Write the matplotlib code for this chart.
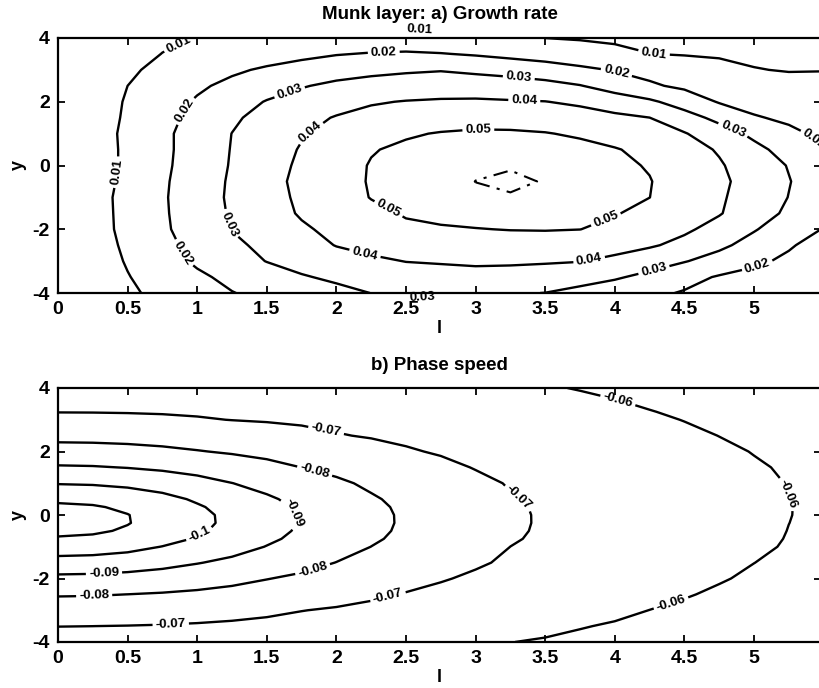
import numpy as np
import matplotlib
matplotlib.use("Agg")
import matplotlib.pyplot as plt

plt.rcParams['font.family'] = ['Liberation Sans', 'DejaVu Sans']
plt.rcParams['axes.unicode_minus'] = False
plt.rcParams['contour.negative_linestyle'] = 'solid'

# ---------------- data ----------------
# wavenumber l (columns) shared by both panels
l_values = [0, 0.25, 0.5, 0.75, 1.0, 1.25, 1.5, 1.75, 2.0, 2.25, 2.5, 2.75,
            3.0, 3.25, 3.5, 3.75, 4.0, 4.25, 4.5, 4.75, 5.0, 5.25, 5.5]

# panel a) growth rate, rows of y, values in units of 1e-4
y_growth = [-4, -3.5, -3, -2.5, -2, -1.5, -1, -0.5, 0, 0.5, 1, 1.5, 2, 2.5, 3, 3.5, 4]
growth_rate_1e4 = [
    [0, 42, 85, 123.5, 160, 197, 223, 249, 274, 301, 307, 314.5, 311, 306, 299, 273, 246, 218, 193, 170, 148, 125.5, 103],
    [0, 48, 96, 140, 184, 222, 257, 292, 317, 339, 361, 364.5, 368, 361, 355, 337, 311, 275, 230, 192, 168, 144, 120],
    [0, 53, 107, 162, 214, 259, 302.5, 334, 365, 385, 402, 408, 415, 414.5, 409, 403, 380, 342, 305, 263, 220, 180, 142],
    [0, 58, 116, 174, 229, 279, 325, 366, 403, 425, 446, 452, 459, 462, 452, 442, 432, 411, 374, 320, 265, 211, 157],
    [0, 62.5, 124, 185, 245, 303, 346, 388, 422, 452.5, 485, 491, 497.5, 502.6, 505, 501, 476, 445, 415, 368, 307, 249, 196],
    [0, 63, 126, 188, 250, 310, 361, 409, 444, 480, 507, 523, 529, 535, 529, 522, 505, 476, 441, 406, 346, 282.5, 220],
    [0, 64, 127.5, 190, 251, 315, 367, 416, 462, 503, 521, 536, 545, 548.5, 540, 532, 516, 500.5, 456, 412, 357, 298, 240],
    [0, 60, 121, 187, 250, 312, 370, 422, 469, 506, 523, 538, 550.3, 553.3, 549, 535, 520, 503, 464, 418, 364, 304, 245],
    [0, 57, 116, 182, 245, 307, 362, 416, 465, 505, 522, 536, 545, 548.5, 540, 532, 515, 495, 452, 409, 354, 295, 236],
    [0, 57, 116, 179, 243, 304, 356, 407, 451, 495, 515, 530, 536, 539.5, 533, 524, 506, 475, 435, 392, 326, 264, 205],
    [0, 58, 118, 180, 241, 301, 347, 393, 427, 459, 491, 505, 512, 511, 504, 489, 461, 433, 406, 344, 279, 221, 180],
    [0, 56, 112, 170, 228, 286, 331, 371, 406, 427, 448, 458, 467, 464, 457, 442, 421, 400.5, 338, 274, 208, 183, 164],
    [0, 54, 108, 159, 210, 259, 305, 334, 363, 392, 404, 410, 412, 407, 402, 383, 349, 316, 258, 193, 168, 155, 142],
    [0, 50, 100, 142, 185, 223, 259, 294, 318, 337, 345, 354, 352, 343, 329, 304, 260, 213, 182, 158, 133, 126.5, 120],
    [0, 43, 86, 122, 153, 185, 213, 239, 263, 275.5, 288, 295, 281, 267, 248, 220, 194, 171, 148, 125, 103, 96, 98],
    [0, 34, 68, 101.5, 120, 139, 157, 176, 195, 206, 211, 204, 191, 173, 155, 137, 119, 101, 95, 90.5, 85.7, 81, 76],
    [0, 28, 56, 84, 103, 110, 117, 123, 130, 137, 137, 128, 118, 109, 99.8, 94, 88, 83, 77, 71, 65, 60, 54],
]
growth_levels = [0.01, 0.02, 0.03, 0.04, 0.05]
growth_inner_level = [0.055]

# panel b) phase speed, rows of y, values in units of 1e-4
y_phase = [-4, -3.5, -3, -2.5, -2, -1.5, -1, -0.75, -0.5, -0.25, 0, 0.25, 0.5, 1, 1.5, 2, 2.5, 3, 3.25, 3.5, 4]
phase_speed_1e4 = [
    [-670.1, -669.6, -668.1, -665.8, -662.4, -658.2, -653.3, -647.6, -641.2, -634.2, -626.5, -618.4, -609.8, -600.8, -594.9, -588.9, -582.7, -576.3, -569.7, -563.0, -556.1, -549.1, -542.0],
    [-701.0, -700.1, -698.3, -695.6, -691.7, -686.9, -681.2, -674.8, -667.6, -659.7, -651.3, -642.3, -633.0, -623.3, -613.1, -602.7, -595.2, -588.4, -581.5, -574.4, -567.2, -559.9, -552.4],
    [-753.1, -752.0, -748.6, -743.0, -735.4, -725.8, -714.5, -701.6, -692.7, -683.9, -674.6, -664.8, -654.5, -644.0, -633.1, -622.1, -610.8, -599.6, -592.2, -584.8, -577.3, -569.6, -561.9],
    [-807.1, -805.2, -799.7, -793.0, -784.0, -772.7, -759.6, -744.8, -728.5, -711.1, -695.8, -685.1, -673.9, -662.5, -651.0, -639.2, -627.2, -615.2, -603.0, -594.1, -586.2, -578.2, -570.2],
    [-879.1, -876.7, -869.6, -858.1, -842.7, -824.0, -802.6, -784.7, -766.2, -746.6, -726.0, -704.7, -690.6, -678.4, -666.1, -653.7, -641.2, -628.6, -616.0, -603.2, -593.8, -585.5, -577.3],
    [-960.7, -956.7, -945.3, -927.4, -904.2, -880.6, -854.9, -827.2, -798.6, -776.7, -754.0, -730.9, -707.3, -691.1, -678.2, -665.3, -652.3, -639.3, -626.4, -613.4, -600.3, -591.7, -583.3],
    [-1055.4, -1048.9, -1029.5, -997.7, -967.1, -933.0, -897.2, -865.4, -832.6, -799.5, -774.9, -750.2, -725.2, -699.8, -686.8, -673.6, -660.3, -647.1, -633.9, -620.7, -607.6, -596.3, -587.6],
    [-1092.8, -1086.4, -1067.0, -1034.7, -992.1, -954.4, -915.3, -879.1, -844.8, -810.2, -782.2, -756.8, -731.3, -705.7, -689.7, -676.4, -663.1, -649.9, -636.6, -623.3, -610.2, -598.0, -589.3],
    [-1117.3, -1110.9, -1091.5, -1059.2, -1014.0, -969.6, -928.1, -888.5, -853.1, -817.6, -787.0, -761.2, -735.4, -709.5, -691.6, -678.3, -665.1, -651.8, -638.5, -625.4, -612.1, -599.2, -590.5],
    [-1129.0, -1122.5, -1103.1, -1070.9, -1025.7, -977.1, -934.5, -893.1, -857.2, -821.2, -789.4, -763.3, -737.3, -711.3, -692.5, -679.3, -666.1, -652.9, -639.7, -626.5, -613.4, -600.2, -591.4],
    [-1127.7, -1121.2, -1101.9, -1069.6, -1024.4, -976.2, -933.7, -892.6, -856.7, -820.8, -789.1, -763.1, -737.1, -711.1, -692.5, -679.4, -666.4, -653.3, -640.2, -627.2, -614.1, -600.9, -591.9],
    [-1113.5, -1107.0, -1087.6, -1055.4, -1010.2, -967.1, -926.1, -887.0, -851.8, -816.4, -786.3, -760.5, -734.7, -708.9, -691.6, -678.7, -665.8, -652.9, -640.0, -627.0, -614.1, -601.0, -592.0],
    [-1086.4, -1079.9, -1060.5, -1028.2, -987.6, -950.6, -912.0, -876.7, -842.7, -808.3, -780.9, -755.6, -730.2, -704.7, -689.8, -677.2, -664.5, -651.8, -639.0, -626.3, -613.4, -600.5, -591.7],
    [-994.9, -990.3, -977.1, -956.7, -930.9, -901.1, -873.3, -844.0, -813.3, -786.8, -763.3, -739.5, -715.3, -695.6, -683.8, -671.8, -659.7, -647.4, -635.1, -622.7, -610.2, -598.4, -589.9],
    [-909.4, -906.2, -897.2, -884.5, -867.7, -847.4, -824.4, -799.5, -779.9, -759.3, -738.0, -715.9, -696.9, -686.1, -675.0, -663.7, -652.2, -640.6, -628.8, -616.9, -604.9, -594.9, -586.6],
    [-835.9, -833.8, -827.7, -817.6, -804.1, -790.9, -776.9, -761.2, -744.1, -725.8, -706.5, -693.8, -684.2, -674.3, -664.0, -653.4, -642.6, -631.5, -620.4, -609.0, -598.3, -590.2, -582.1],
    [-774.0, -772.7, -769.1, -763.1, -754.9, -744.8, -732.8, -719.2, -704.2, -694.6, -686.9, -678.6, -669.8, -660.7, -651.1, -641.2, -631.1, -620.7, -610.1, -599.4, -591.7, -583.9, -576.1],
    [-721.9, -720.8, -717.7, -712.7, -705.7, -698.7, -694.2, -689.0, -683.2, -676.6, -669.6, -662.0, -654.1, -645.5, -636.7, -627.6, -618.1, -608.3, -598.7, -591.5, -584.2, -576.7, -569.2],
    [-698.2, -697.8, -696.6, -694.6, -691.8, -688.3, -684.0, -679.1, -673.5, -667.4, -660.6, -653.4, -645.8, -637.5, -629.0, -620.2, -611.0, -601.5, -593.9, -586.8, -579.6, -572.4, -565.0],
    [-687.2, -686.8, -685.7, -683.8, -681.2, -677.8, -673.8, -669.1, -663.8, -657.9, -651.5, -644.6, -637.2, -629.4, -621.1, -612.5, -603.6, -595.8, -589.1, -582.2, -575.2, -568.1, -560.9],
    [-665.2, -664.8, -663.8, -662.1, -659.7, -656.7, -653.0, -648.8, -644.0, -638.6, -632.7, -626.4, -619.5, -612.3, -604.6, -597.4, -591.5, -585.3, -579.0, -572.5, -565.8, -559.0, -552.1],
]
phase_levels = [-0.11, -0.1, -0.09, -0.08, -0.07, -0.06]

x_ticks = [0, 0.5, 1, 1.5, 2, 2.5, 3, 3.5, 4, 4.5, 5]
y_ticks = [-4, -2, 0, 2, 4]

# label placement (layout), points lying on the contour lines
growth_label_pos = [
    (0.86, 3.85), (0.45, -0.23), (4.28, 3.48),
    (0.90, 1.75), (0.91, -2.73), (2.34, 3.58), (4.01, 2.90), (5.02, -3.10), (5.43, 0.81),
    (1.67, 2.22), (1.23, -1.85), (3.31, 2.75), (4.85, 1.13), (4.28, -3.26),
    (1.78, 1.23), (2.20, -2.85), (3.35, 2.07), (3.82, -3.05),
    (2.34, -1.64), (3.02, 1.23), (3.95, -1.85),
]
phase_label_pos = [
    (1.0, -0.46),
    (1.64, -0.09), (0.33, -1.81),
    (1.84, 1.32), (1.83, -1.72), (0.26, -2.56),
    (1.92, 2.53), (0.81, -3.45), (2.37, -2.56), (3.29, 0.43),
    (4.02, 3.58), (5.20, 0.59), (4.40, -2.72),
]

# ---------------- figure ----------------
W, H = 819, 688
fig = plt.figure(figsize=(W / 100, H / 100), dpi=100)
left = 58 / W
width = (821 - 58) / W
axA = fig.add_axes([left, 1 - 293 / H, width, (293 - 38) / H])
axB = fig.add_axes([left, 1 - 642 / H, width, (642 - 388) / H])

for ax in (axA, axB):
    ax.set_xlim(0, (821 - 58) / 139.2)
    ax.set_ylim(-4, 4)

L = np.array(l_values)
ZA = np.array(growth_rate_1e4) / 1e4
ZB = np.array(phase_speed_1e4) / 1e4

lw = 1.7
csA = axA.contour(L, np.array(y_growth), ZA, levels=growth_levels, colors='k',
                  linewidths=lw, linestyles='solid')
csA2 = axA.contour(L, np.array(y_growth), ZA, levels=growth_inner_level, colors='k', linewidths=1.5)
csA2.set_linestyle((0, (7, 3.5, 1.5, 3.5)))

csB = axB.contour(L, np.array(y_phase), ZB, levels=phase_levels, colors='k',
                  linewidths=lw, linestyles='solid')

lab_fs = 9.5
plt.rcParams['font.weight'] = 'bold'
csA.clabel(manual=growth_label_pos, inline=True, inline_spacing=3, fmt='%g', fontsize=lab_fs)
csB.clabel(manual=phase_label_pos, inline=True, inline_spacing=3, fmt='%g', fontsize=lab_fs)
plt.rcParams['font.weight'] = 'normal'

# labels of contours that sit just outside the plotting box
axA.text(2.60, 4.26, '0.01', ha='center', va='center', fontsize=lab_fs, fontweight='bold',
         rotation=-3, clip_on=False)
axA.text(2.62, -4.14, '0.03', ha='center', va='center', fontsize=lab_fs, fontweight='bold',
         rotation=3, clip_on=False)

for ax in (axA, axB):
    ax.set_xticks(x_ticks)
    ax.set_xticklabels(['%g' % t for t in x_ticks])
    ax.set_yticks(y_ticks)
    ax.set_yticklabels(['%g' % t for t in y_ticks])
    ax.tick_params(direction='in', top=True, right=True, length=5, width=1.3,
                   labelsize=14, pad=6)
    for t in ax.get_xticklabels() + ax.get_yticklabels():
        t.set_fontweight('bold')
    for s in ax.spines.values():
        s.set_linewidth(1.6)
    ax.set_xlabel('l', fontsize=13, fontweight='bold', labelpad=1)
    ax.set_ylabel('y', fontsize=13, fontweight='bold', labelpad=4)

axA.set_title('Munk layer: a) Growth rate', fontsize=13.5, fontweight='bold', pad=14)
axB.set_title('b) Phase speed', fontsize=13.5, fontweight='bold', pad=13)

fig.savefig('out.png', dpi=100)
